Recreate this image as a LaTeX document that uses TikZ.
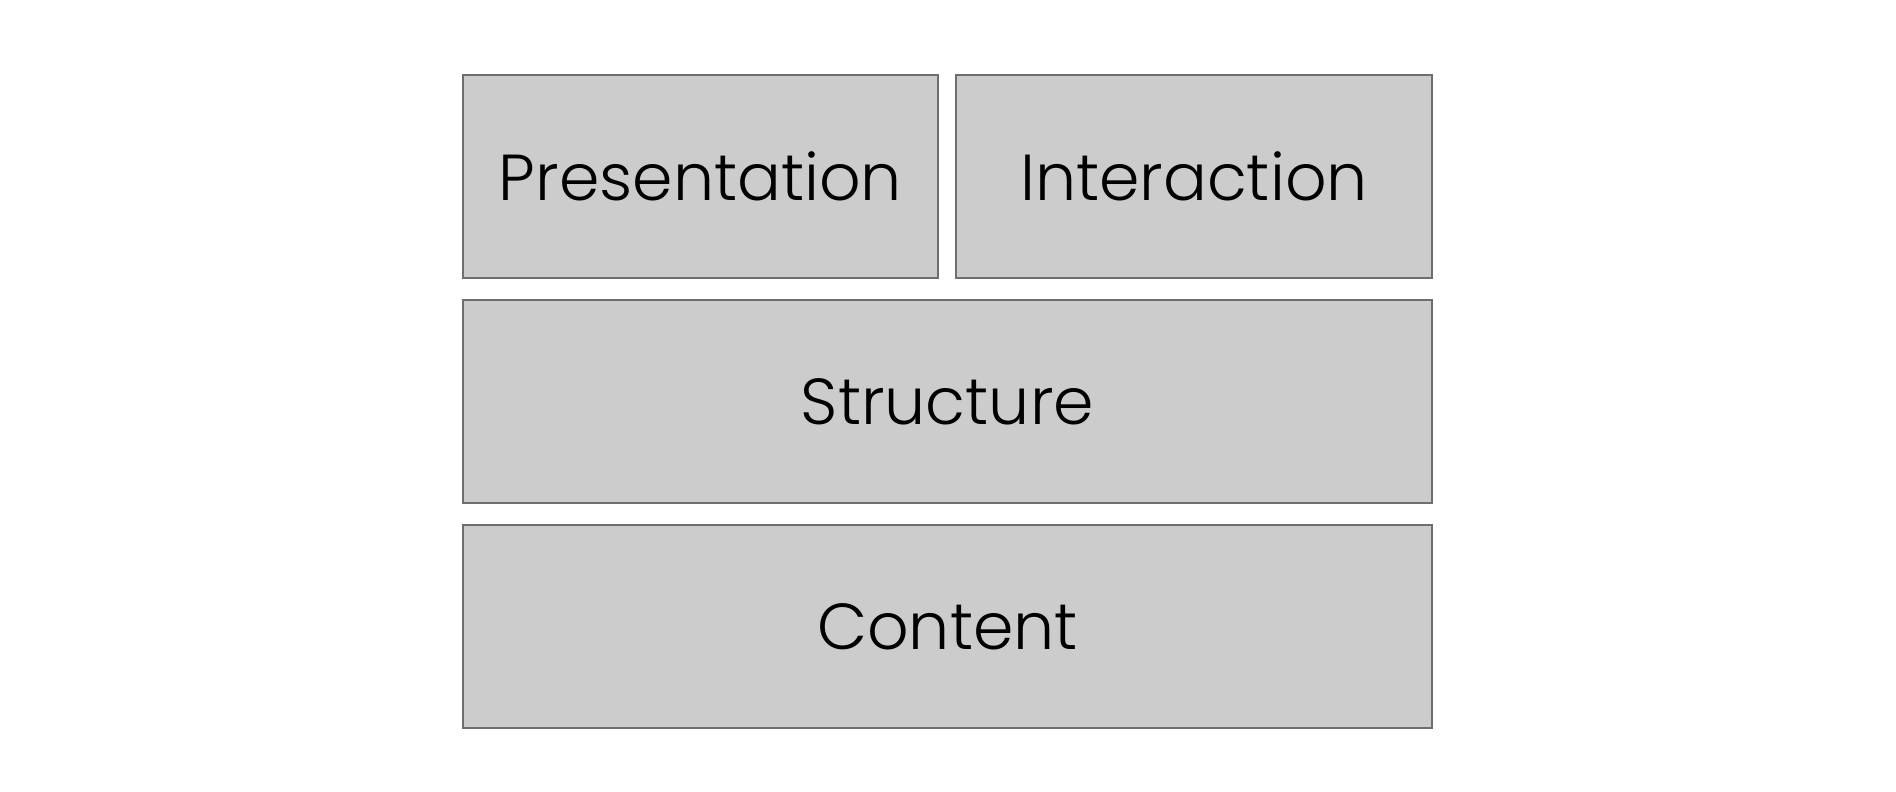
\documentclass[tikz,border=0pt]{standalone}
\usepackage{fontspec}
\setmainfont{Poppins}[UprightFont=* Light]
\begin{document}
\begin{tikzpicture}[x=1pt,y=-1pt,
  layer/.style={draw=boxline, fill=boxfill, line width=1.5pt, inner sep=0pt,
    font=\fontsize{65}{70}\selectfont, text=black}]
\definecolor{boxfill}{HTML}{CCCCCC}
\definecolor{boxline}{HTML}{6E6E6E}
\useasboundingbox (0,0) rectangle (1896,792);
\node[layer, minimum width=475pt, minimum height=203pt] (P) at (700.5,176.5) {Presentation};
\node[layer, minimum width=476pt, minimum height=203pt] (I) at (1194,176.5) {Interaction};
\node[layer, minimum width=969pt, minimum height=203pt] (S) at (947.5,401.5) {Structure};
\node[layer, minimum width=969pt, minimum height=203pt] (C) at (947.5,626.5) {Content};
\end{tikzpicture}
\end{document}
